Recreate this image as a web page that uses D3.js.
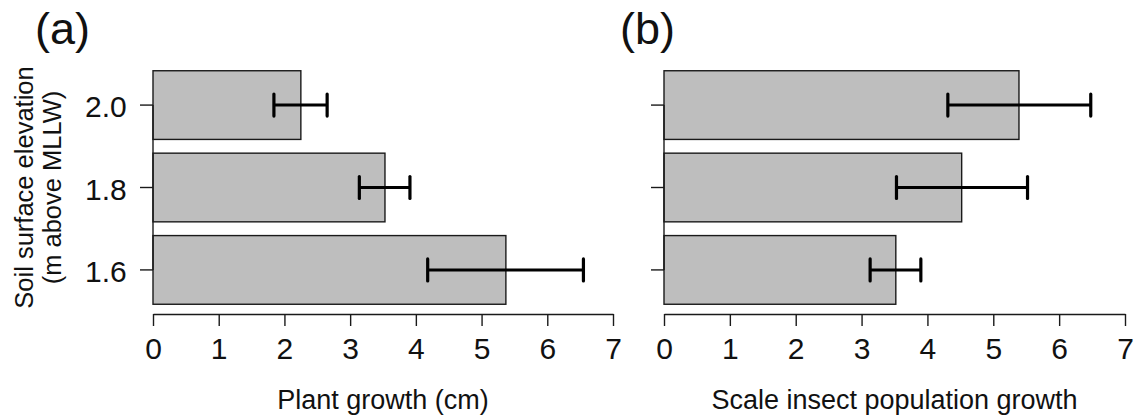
<!DOCTYPE html>
<html>
<head>
<meta charset="utf-8">
<script src="https://cdn.jsdelivr.net/npm/d3@7"></script>
<style>
  html, body { margin: 0; padding: 0; background: #fff; }
  svg { display: block; font-family: "Liberation Sans", Arial, Helvetica, sans-serif; }
</style>
</head>
<body>
<svg id="chart" width="1135" height="420"></svg>
<script>
// ---- data ----
const elevations = ["1.6", "1.8", "2.0"];
const plantMean = [5.37, 3.53, 2.25];
const plantLow  = [4.18, 3.14, 1.84];
const plantHigh = [6.55, 3.91, 2.65];
const insectMean = [3.52, 4.52, 5.39];
const insectLow  = [3.13, 3.53, 4.31];
const insectHigh = [3.90, 5.52, 6.48];
const xTicks = [0, 1, 2, 3, 4, 5, 6, 7];
const panelLabels = ["(a)", "(b)"];
const xTitles = ["Plant growth (cm)", "Scale insect population growth"];
const yTitleLines = ["Soil surface elevation", "(m above MLLW)"];

const svg = d3.select("#chart");
const ink = "#1a1a1a";

const y = d3.scaleBand()
  .domain(elevations)
  .range([313.6, 61.4])
  .paddingInner(0.2 / 1.2)
  .paddingOuter(0.136 / 1.2);

const panels = [
  { x0: 153, x1: 613, mean: plantMean, lo: plantLow, hi: plantHigh, label: panelLabels[0], title: xTitles[0], yLabels: true, lx: 35 },
  { x0: 664, x1: 1125, mean: insectMean, lo: insectLow, hi: insectHigh, label: panelLabels[1], title: xTitles[1], yLabels: false, lx: 620 }
];

panels.forEach(p => {
  const x = d3.scaleLinear().domain([0, 7]).range([p.x0, p.x1]);
  const g = svg.append("g");
  const rows = elevations.map((e, i) => ({ e, m: p.mean[i], lo: p.lo[i], hi: p.hi[i] }));

  // bars
  g.selectAll("rect.bar").data(rows).join("rect")
    .attr("class", "bar")
    .attr("x", x(0))
    .attr("y", d => y(d.e))
    .attr("width", d => x(d.m) - x(0))
    .attr("height", y.bandwidth())
    .attr("fill", "#bebebe")
    .attr("stroke", ink)
    .attr("stroke-width", 1.4);

  // error bars
  const eb = g.selectAll("g.eb").data(rows).join("g").attr("class", "eb");
  const cy = d => y(d.e) + y.bandwidth() / 2;
  eb.append("line")
    .attr("x1", d => x(d.lo)).attr("x2", d => x(d.hi))
    .attr("y1", cy).attr("y2", cy)
    .attr("stroke", "#000").attr("stroke-width", 3);
  ["lo", "hi"].forEach(k => {
    eb.append("line")
      .attr("x1", d => x(d[k])).attr("x2", d => x(d[k]))
      .attr("y1", d => cy(d) - 11).attr("y2", d => cy(d) + 11)
      .attr("stroke", "#000").attr("stroke-width", 3.2).attr("stroke-linecap", "round");
  });

  // x axis
  const xa = g.append("g")
    .attr("transform", "translate(0,314)")
    .call(d3.axisBottom(x).tickValues(xTicks).tickFormat(d3.format("d")).tickSize(12).tickPadding(12).tickSizeOuter(0));
  xa.select(".domain").attr("stroke", ink).attr("stroke-width", 1.4);
  xa.selectAll(".tick line").attr("stroke", ink).attr("stroke-width", 1.4);
  xa.selectAll(".tick text").attr("font-size", 30).attr("fill", "#111").attr("font-family", null);

  // y axis: line spanning first to last tick
  const ya = g.append("g")
    .attr("transform", `translate(${x(0)},0)`)
    .call(d3.axisLeft(y).tickSize(13).tickPadding(13.3).tickFormat(p.yLabels ? (d => d) : () => ""));
  const ys = elevations.map(e => y(e) + y.bandwidth() / 2);
  ya.select(".domain").attr("d", `M0,${d3.min(ys)}V${d3.max(ys)}`).attr("stroke", ink).attr("stroke-width", 1.4);
  ya.selectAll(".tick line").attr("stroke", ink).attr("stroke-width", 1.4);
  ya.selectAll(".tick text").attr("font-size", 30).attr("fill", "#111").attr("dy", "0.4em").attr("font-family", null);

  // x title
  g.append("text")
    .attr("x", (p.x0 + p.x1) / 2).attr("y", 409)
    .attr("text-anchor", "middle")
    .attr("font-size", 27).attr("fill", "#111")
    .text(p.title);

  // panel label
  g.append("text")
    .attr("x", p.lx).attr("y", 44)
    .attr("font-size", 45).attr("fill", "#111")
    .text(p.label);
});

// y title (two lines)
const yCenter = 187.5;
[33, 61].forEach((bx, i) => {
  svg.append("text")
    .attr("transform", `translate(${bx},${yCenter}) rotate(-90)`)
    .attr("text-anchor", "middle")
    .attr("font-size", 25.5).attr("fill", "#111")
    .text(yTitleLines[i]);
});
</script>
</body>
</html>
